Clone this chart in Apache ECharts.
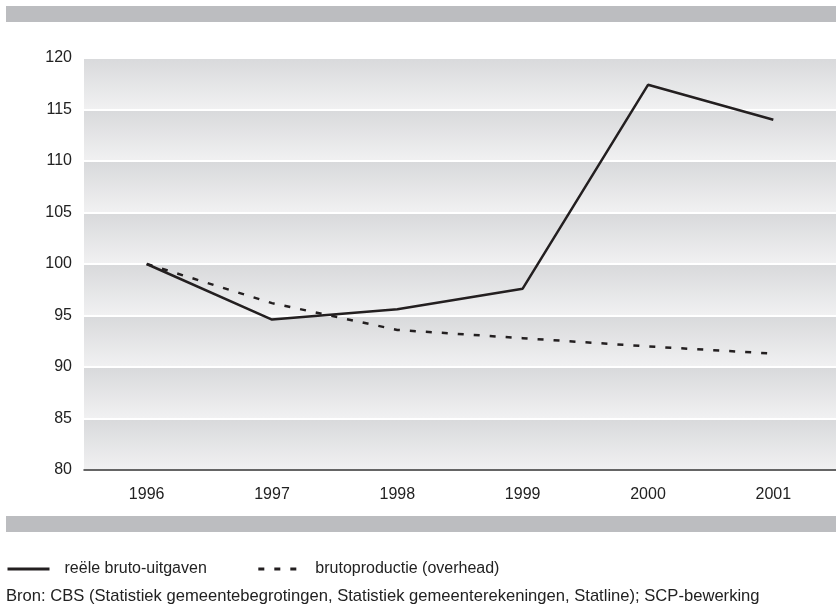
<!DOCTYPE html>
<html>
<head>
<meta charset="utf-8">
<script src="https://cdn.jsdelivr.net/npm/echarts@6/dist/echarts.min.js"></script>
<style>
  html, body { margin: 0; padding: 0; background: #fff; }
  #main { width: 836px; height: 607px; }
</style>
</head>
<body>
<div id="main"></div>
<script>
// data
var years = ['1996', '1997', '1998', '1999', '2000', '2001'];
var brutoUitgaven = [100, 94.6, 95.6, 97.6, 117.4, 114.0];
var brutoProductie = [100, 96.2, 93.6, 92.8, 92.0, 91.3];
var yTicks = [80, 85, 90, 95, 100, 105, 110, 115, 120];
var seriesNames = ['reële bruto-uitgaven', 'brutoproductie (overhead)'];
var sourceText = 'Bron: CBS (Statistiek gemeentebegrotingen, Statistiek gemeenterekeningen, Statline); SCP-bewerking';

var chart = echarts.init(document.getElementById('main'));
var font = 'Liberation Sans, Arial, sans-serif';

var bandFill = new echarts.graphic.LinearGradient(0, 0, 0, 1, [
  { offset: 0, color: '#d8d9db' },
  { offset: 1, color: '#f1f1f2' }
]);

var option = {
  animation: false,
  backgroundColor: '#fff',
  textStyle: { fontFamily: font },
  grid: { left: 84, right: -4, top: 58, bottom: 137 },
  legend: {
    left: 6,
    top: 561,
    padding: 0,
    itemWidth: 42,
    itemHeight: 14,
    itemGap: 50,
    data: seriesNames,
    itemStyle: { opacity: 0 },
    lineStyle: { width: 3, color: '#231f20' },
    textStyle: { fontSize: 16, color: '#222', padding: [0, 0, 0, 10] }
  },
  xAxis: [{
    type: 'category',
    data: years,
    boundaryGap: true,
    axisLine: { lineStyle: { color: '#333', width: 1.5 } },
    axisTick: { alignWithLabel: true, length: 7, lineStyle: { color: '#333', width: 1 } },
    axisLabel: { fontSize: 16, color: '#222', margin: 17 },
    splitLine: { show: false }
  }, {
    type: 'category',
    data: years,
    position: 'bottom',
    boundaryGap: true,
    axisLine: { show: false },
    axisTick: { alignWithLabel: true, inside: true, length: 5, lineStyle: { color: '#333', width: 1 } },
    axisLabel: { show: false }
  }],
  yAxis: {
    type: 'value',
    min: yTicks[0],
    max: yTicks[yTicks.length - 1],
    interval: 5,
    axisLine: { show: false },
    axisTick: { show: false },
    axisLabel: { fontSize: 16, color: '#222', margin: 12, padding: [0, 0, 6, 0] },
    splitLine: { show: true, lineStyle: { color: '#fff', width: 2 } },
    splitArea: { show: true, areaStyle: { color: [bandFill] } }
  },
  series: [{
    name: seriesNames[0],
    type: 'line',
    data: brutoUitgaven,
    symbol: 'none',
    lineStyle: { color: '#231f20', width: 2.5 },
    itemStyle: { color: '#231f20' },
    z: 3
  }, {
    name: seriesNames[1],
    type: 'line',
    data: brutoProductie,
    symbol: 'none',
    lineStyle: { color: '#231f20', width: 2.5, type: [6, 10] },
    itemStyle: { color: '#231f20' },
    z: 3
  }],
  graphic: [{
    type: 'rect',
    shape: { x: 6, y: 6, width: 830, height: 16 },
    style: { fill: '#bcbdc0' },
    silent: true
  }, {
    type: 'rect',
    shape: { x: 6, y: 516, width: 830, height: 16 },
    style: { fill: '#bcbdc0' },
    silent: true
  }, {
    type: 'text',
    left: 6,
    top: 588,
    style: { text: sourceText, fontSize: 16.6, fill: '#222', fontFamily: font },
    silent: true
  }]
};

chart.setOption(option);
</script>
</body>
</html>
